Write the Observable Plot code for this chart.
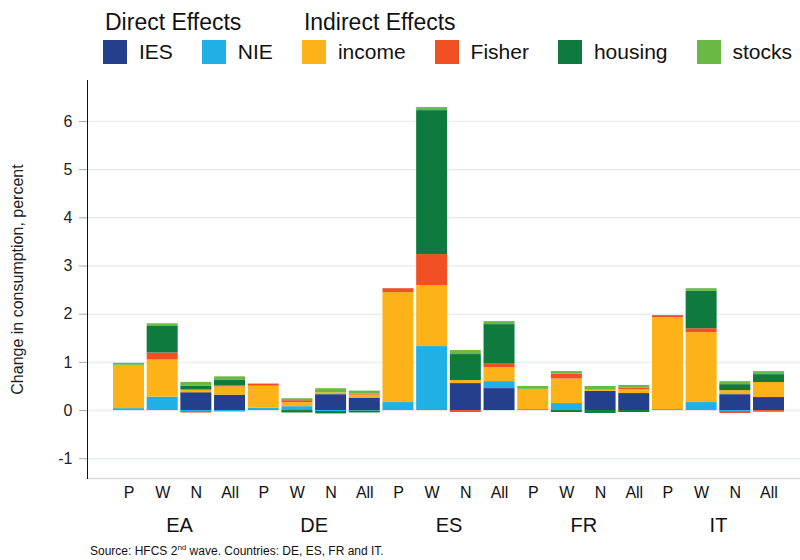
<!DOCTYPE html>
<html>
<head>
<meta charset="utf-8">
<script src="https://cdn.jsdelivr.net/npm/d3@7"></script>
<script src="https://cdn.jsdelivr.net/npm/@observablehq/plot@0.6"></script>
<style>
  html, body { margin: 0; padding: 0; background: #fff; }
  body { width: 800px; height: 560px; overflow: hidden; font-family: "Liberation Sans", Arial, Helvetica, sans-serif; color: #111; }
  #legend { height: 70px; box-sizing: border-box; padding: 8px 0 0 103px; display: flex; }
  .lgroup { display: flex; flex-direction: column; }
  .ltitle { font-size: 23px; line-height: 28px; padding-left: 2px; height: 28px; }
  .litems { display: flex; margin-top: 3px; }
  .litem { display: flex; align-items: center; margin-right: 29px; font-size: 21px; line-height: 26px; }
  .sw { width: 24px; height: 24px; margin-right: 12px; }
  #caption { font-size: 12px; padding-left: 90px; margin-top: 8px; color: #111; }
  #caption sup { font-size: 8px; }
</style>
</head>
<body>
<div id="legend"></div>
<div id="chart"></div>
<div id="caption">Source: HFCS 2<sup>nd</sup> wave. Countries: DE, ES, FR and IT.</div>
<script>
const countries = ["EA", "DE", "ES", "FR", "IT"];
const types = ["P", "W", "N", "All"];
const components = ["IES", "NIE", "income", "Fisher", "housing", "stocks"];
const colors = ["#243f8c", "#20b0e6", "#fdb218", "#f15025", "#0e7a3e", "#69b944"];
const groups = [
  {title: "Direct Effects", members: ["IES", "NIE"]},
  {title: "Indirect Effects", members: ["income", "Fisher", "housing", "stocks"]}
];

// values per component, ordered EA(P,W,N,All), DE(...), ES(...), FR(...), IT(...)
const IES     = [0, 0, 0.37, 0.32,      0, 0, 0.33, 0.26,        0, 0, 0.56, 0.456,        0, 0, 0.40, 0.353,       0, 0, 0.33, 0.27];
const NIE     = [0.04, 0.28, -0.02, -0.03, 0.05, 0.08, -0.02, -0.01, 0.166, 1.328, 0, 0.145, 0.02, 0.145, 0, 0,      0.02, 0.166, -0.02, 0];
const income  = [0.89, 0.77, 0.055, 0.17, 0.455, 0.085, 0.04, 0.062, 2.28, 1.266, 0.062, 0.29, 0.42, 0.51, 0.02, 0.083, 1.91, 1.45, 0.083, 0.31];
const Fisher  = [0.01, 0.145, -0.03, 0.02, 0.045, 0.04, 0, 0.02,    0.083, 0.643, -0.04, 0.083, 0, 0.104, 0.01, 0.03, 0.04, 0.083, -0.04, -0.035];
const housing = [0, 0.55, 0.085, 0.125,  0, -0.05, -0.05, -0.04,    0, 2.988, 0.54, 0.81,     0, -0.04, -0.06, -0.04, 0, 0.775, 0.125, 0.166];
const stocks  = [0.04, 0.055, 0.075, 0.065, 0, 0.04, 0.083, 0.062,  0, 0.062, 0.083, 0.062,   0.06, 0.05, 0.07, 0.055, 0, 0.055, 0.062, 0.062];
const yTicks = [-1, 0, 1, 2, 3, 4, 5, 6];

const series = {IES, NIE, income, Fisher, housing, stocks};
const keys = countries.flatMap(c => types.map(t => `${c}|${t}`));
const data = keys.flatMap((k, i) => components.map(comp => ({key: k, component: comp, value: series[comp][i]})));

// legend
const colorOf = Object.fromEntries(components.map((c, i) => [c, colors[i]]));
const legend = document.getElementById("legend");
for (const g of groups) {
  const gd = document.createElement("div");
  gd.className = "lgroup";
  const t = document.createElement("div");
  t.className = "ltitle";
  t.textContent = g.title;
  gd.appendChild(t);
  const items = document.createElement("div");
  items.className = "litems";
  for (const m of g.members) {
    const it = document.createElement("div");
    it.className = "litem";
    const sw = document.createElement("span");
    sw.className = "sw";
    sw.style.background = colorOf[m];
    const lb = document.createElement("span");
    lb.textContent = m;
    it.appendChild(sw); it.appendChild(lb);
    items.appendChild(it);
  }
  gd.appendChild(items);
  legend.appendChild(gd);
}

const W = 800, H = 465, mL = 87, mR = 0, insL = 26, insR = 16, pad = 0.08;
const step = (W - mL - mR - insL - insR) / (keys.length - pad);

const chart = Plot.plot({
  width: W,
  height: H,
  marginLeft: mL,
  marginRight: mR,
  marginTop: 10,
  marginBottom: 57,
  style: {fontFamily: "'Liberation Sans', Arial, Helvetica, sans-serif", color: "#222", background: "#fff"},
  x: {domain: keys, paddingInner: pad, paddingOuter: 0, round: false, insetLeft: insL, insetRight: insR, axis: null},
  y: {domain: [-1.41, 6.85], axis: null},
  color: {domain: components, range: colors},
  marks: [
    Plot.gridY(yTicks, {stroke: "#e6eff2", strokeOpacity: 1, strokeWidth: 1.5}),
    Plot.frame({anchor: "bottom", stroke: "#dcdcdc", strokeWidth: 1.5}),
    Plot.barY(data, {x: "key", y: "value", fill: "component", order: components}),
    Plot.frame({anchor: "left", stroke: "#111"}),
    Plot.axisY(yTicks, {
      tickSize: 8, tickPadding: 7, stroke: "#aaa", fill: "#222", fontSize: 16,
      tickFormat: d => `${d}`,
      label: "Change in consumption, percent", labelAnchor: "center", labelOffset: 76, labelArrow: "none"
    }),
    Plot.axisX(keys, {tickSize: 0, tickPadding: 8, fontSize: 16, fill: "#111", tickFormat: k => k.split("|")[1], label: null}),
    Plot.text(countries, {
      x: c => `${c}|W`, text: d => d, frameAnchor: "bottom", dy: 47, dx: step / 2,
      fontSize: 20, fill: "#111", lineAnchor: "middle"
    })
  ]
});
document.getElementById("chart").appendChild(chart);
</script>
</body>
</html>
